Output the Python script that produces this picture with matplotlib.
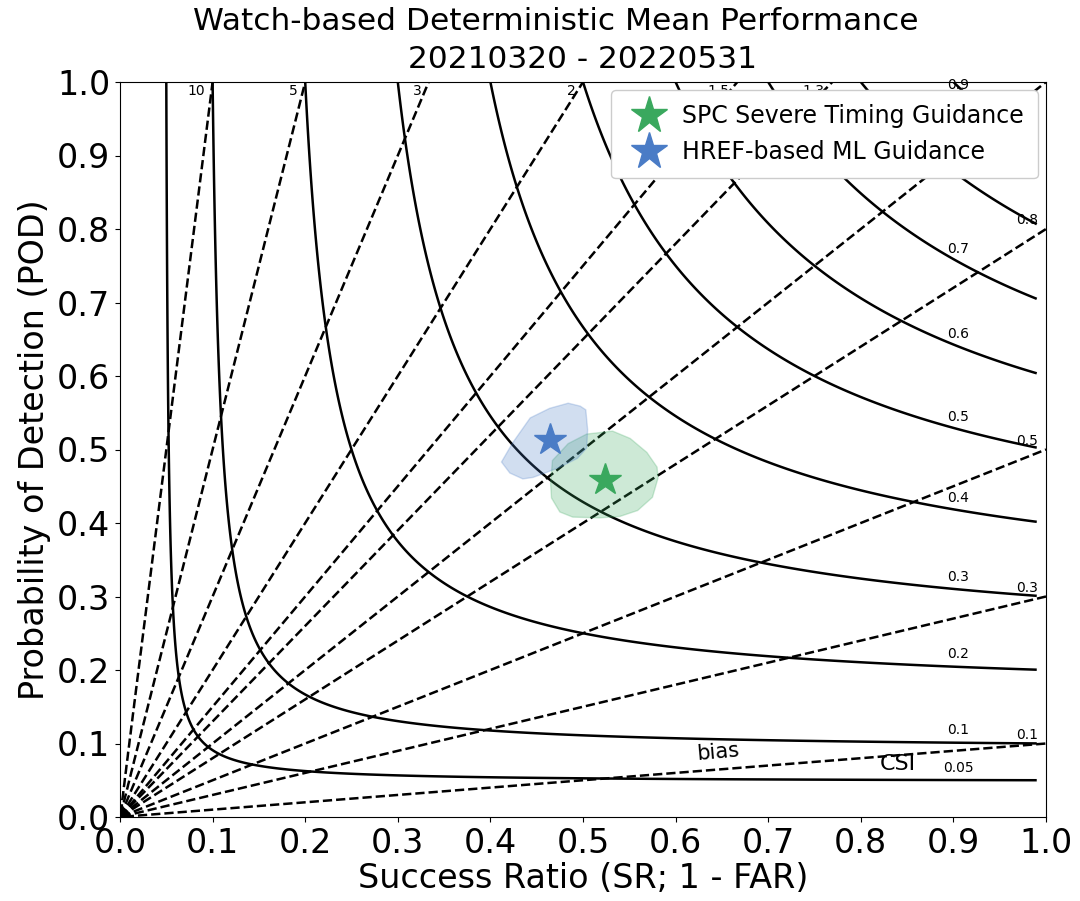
import numpy as np
import matplotlib
matplotlib.use("Agg")
import matplotlib.pyplot as plt

# contour levels
csi_levels = [0.05, 0.1, 0.2, 0.3, 0.4, 0.5, 0.6, 0.7, 0.8, 0.9]
bias_levels = [0.1, 0.3, 0.5, 0.8, 1.0, 1.3, 1.5, 2, 3, 5, 10]
bias_top = [10, 5, 3, 2, 1.5, 1.3]
bias_right = [0.8, 0.5, 0.3, 0.1]

# guidance points (SR, POD)
names = ["SPC Severe Timing Guidance", "HREF-based ML Guidance"]
sr_pts = [0.524, 0.464]
pod_pts = [0.459, 0.513]
colors = ["#3aa85e", "#4a7cc6"]

# uncertainty regions (SR, POD)
spc_sr = [0.467, 0.484, 0.504, 0.532, 0.551, 0.569, 0.580, 0.581, 0.575, 0.559,
          0.540, 0.518, 0.489, 0.475, 0.466, 0.465]
spc_pod = [0.485, 0.508, 0.521, 0.525, 0.515, 0.496, 0.476, 0.461, 0.435, 0.417,
           0.409, 0.407, 0.408, 0.415, 0.434, 0.454]
href_sr = [0.412, 0.424, 0.443, 0.464, 0.484, 0.497, 0.503, 0.505, 0.504, 0.494,
           0.475, 0.461, 0.446, 0.435, 0.421]
href_pod = [0.483, 0.509, 0.543, 0.556, 0.563, 0.559, 0.554, 0.527, 0.502, 0.488,
            0.476, 0.469, 0.462, 0.460, 0.468]

fig = plt.figure(figsize=(10.8, 9.01), dpi=100)
ax = fig.add_axes([120 / 1080, 84 / 901, 926 / 1080, 735 / 901])

# CSI grid
sr_c, pod_c = np.meshgrid(np.linspace(0.001, 0.99, 600), np.linspace(0.001, 1.0, 600))
csi = 1.0 / (1.0 / sr_c + 1.0 / pod_c - 1.0)
ax.contour(sr_c, pod_c, csi, csi_levels, colors="k", linewidths=1.8, linestyles="solid")

# bias grid
sr_b, pod_b = np.meshgrid(np.linspace(0.0005, 1.0, 600), np.linspace(0.0005, 1.0, 600))
bias = pod_b / sr_b
ax.contour(sr_b, pod_b, bias, bias_levels, colors="k", linewidths=1.8, linestyles="dashed")

# contour labels (the 0.8 CSI label sits under the legend, as in the original)
for c in csi_levels:
    y = 1.0 / (1.0 / c + 1.0 - 1.0 / 0.905)
    ax.text(0.905, min(y + 0.017, 0.996), f"{c:g}", fontsize=10, ha="center", va="center", zorder=2)
for b in bias_top:
    ax.text(1.0 / b - 0.008, 0.988, f"{b:g}", fontsize=10, ha="right", va="center")
for b in bias_right:
    ax.text(0.98, b + 0.012, f"{b:g}", fontsize=10, ha="center", va="center")

ax.text(0.646, 0.088, "bias", fontsize=15, rotation=5, ha="center", va="center")
ax.text(0.84, 0.072, "CSI", fontsize=16, ha="center", va="center")

# shaded regions and points
ax.fill(spc_sr, spc_pod, color=colors[0], alpha=0.25, lw=1, zorder=3)
ax.fill(href_sr, href_pod, color=colors[1], alpha=0.25, lw=1, zorder=3)
for name, x, y, col in zip(names, sr_pts, pod_pts, colors):
    ax.plot(x, y, marker="*", ms=24, color=col, ls="none", label=name, zorder=4)

ax.set_xlim(0, 1)
ax.set_ylim(0, 1)
ax.set_xticks(np.arange(0, 1.01, 0.1))
ax.set_yticks(np.arange(0, 1.01, 0.1))
ax.tick_params(labelsize=24)
ax.set_xlabel("Success Ratio (SR; 1 - FAR)", fontsize=24, labelpad=2)
ax.set_ylabel("Probability of Detection (POD)", fontsize=24, labelpad=4)

# two-line title
fig.text(556 / 1080, 1 - 22 / 901, "Watch-based Deterministic Mean Performance", fontsize=22.5,
         ha="center", va="center")
fig.text(582 / 1080, 1 - 60 / 901, "20210320 - 20220531", fontsize=22.5,
         ha="center", va="center")

leg = ax.legend(loc="upper right", fontsize=17, borderaxespad=0.35, handletextpad=0.4,
                markerscale=1.15, borderpad=0.6, framealpha=1.0)
leg.set_zorder(5)

fig.savefig("out.png", dpi=100)
